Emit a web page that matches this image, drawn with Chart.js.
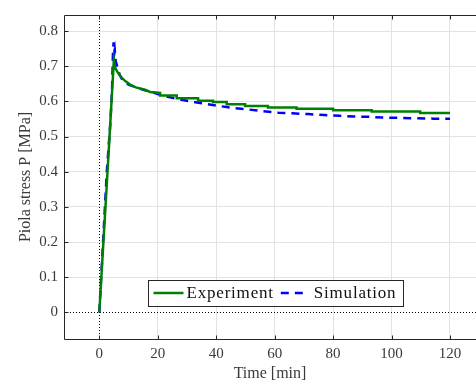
<!DOCTYPE html>
<html><head><meta charset="utf-8">
<script src="https://cdn.jsdelivr.net/npm/chart.js@4"></script>
<style>html,body{margin:0;padding:0;background:#fff}#wrap{width:476px;height:385px}</style>
</head><body><div id="wrap"><canvas id="c" width="476" height="385"></canvas></div>
<script>
const expTime = [0, 3.0, 5.0, 5.5, 6.5, 7.8, 9.0, 10.5, 12.5, 15.6, 17.4, 20.8, 20.8, 26.5, 26.5, 33.8, 33.8, 38.9, 38.9, 43.6, 43.6, 49.9, 49.9, 57.7, 57.7, 67.5, 67.5, 80, 80, 93.2, 93.2, 109.8, 109.8, 120];
const expStress = [0, 0.427, 0.720, 0.694, 0.680, 0.666, 0.657, 0.648, 0.640, 0.633, 0.627, 0.624, 0.617, 0.617, 0.609, 0.609, 0.602, 0.602, 0.598, 0.598, 0.592, 0.592, 0.587, 0.587, 0.583, 0.583, 0.579, 0.579, 0.575, 0.575, 0.571, 0.571, 0.567, 0.567];
const simTime = [0, 2.6, 3.8, 4.35, 4.7, 4.9, 5.1, 5.3, 5.6, 6.1, 7, 8, 10, 12.5, 15, 17.4, 20, 23.1, 26, 29.9, 35, 40.2, 45, 51, 56, 61.3, 66, 71.5, 77, 82.4, 87, 92.6, 97, 102.9, 108, 114.3, 120];
const simStress = [0, 0.405, 0.54, 0.633, 0.745, 0.768, 0.735, 0.745, 0.715, 0.700, 0.675, 0.660, 0.648, 0.640, 0.633, 0.628, 0.621, 0.614, 0.608, 0.602, 0.595, 0.588, 0.582, 0.577, 0.572, 0.568, 0.566, 0.564, 0.561, 0.559, 0.557, 0.556, 0.554, 0.553, 0.552, 0.551, 0.551];
const seriesNames = ['Experiment', 'Simulation'];
const xTicks = [0, 20, 40, 60, 80, 100, 120];
const yTicks = [0, 0.1, 0.2, 0.3, 0.4, 0.5, 0.6, 0.7, 0.8];

const FONT = "'Liberation Serif', 'Times New Roman', serif";
const TXT = '#3a3a3a';
const GRID = '#e3e3e3';

const pts = (xs, ys) => xs.map((x, i) => ({x, y: ys[i]}));

const framePlugin = {
  id: 'frame',
  beforeDatasetsDraw(chart) {
    const {ctx, chartArea: a, scales: {x, y}} = chart;
    ctx.save();
    ctx.strokeStyle = '#000';
    ctx.lineWidth = 1;
    ctx.setLineDash([1, 2]);
    const x0 = Math.round(x.getPixelForValue(0)) + 0.5;
    const y0 = Math.round(y.getPixelForValue(0)) + 0.5;
    ctx.beginPath();
    ctx.moveTo(x0, a.top); ctx.lineTo(x0, a.bottom);
    ctx.moveTo(a.left, y0); ctx.lineTo(a.right, y0);
    ctx.stroke();
    ctx.restore();
  },
  afterDatasetsDraw(chart) {
    const {ctx, chartArea: a, scales: {x, y}} = chart;
    ctx.save();
    ctx.strokeStyle = '#262626';
    ctx.lineWidth = 1;
    const L = Math.round(a.left) + 0.5, B = Math.round(a.bottom) + 0.5, T = Math.round(a.top) + 0.5;
    ctx.beginPath();
    ctx.moveTo(L, T); ctx.lineTo(a.right, T);
    ctx.moveTo(L, T); ctx.lineTo(L, B); ctx.lineTo(a.right, B);
    xTicks.forEach(v => {
      const px = Math.round(x.getPixelForValue(v)) + 0.5;
      ctx.moveTo(px, B); ctx.lineTo(px, B - 4);
      ctx.moveTo(px, T); ctx.lineTo(px, T + 4);
    });
    yTicks.forEach(v => {
      const py = Math.round(y.getPixelForValue(v)) + 0.5;
      ctx.moveTo(L, py); ctx.lineTo(L + 4, py);
    });
    ctx.stroke();

    // legend
    const ds = chart.data.datasets;
    ctx.font = "17px " + FONT;
    if ('letterSpacing' in ctx) ctx.letterSpacing = '0.8px';
    const sample = 30, gapA = 3, gapB = 7;
    const w0 = ctx.measureText(ds[0].label).width;
    const w1 = ctx.measureText(ds[1].label).width;
    const inner = sample + gapA + w0 + gapB + sample + gapA + w1;
    const cx = 275.5, cy = 293;
    const bx = Math.round(cx - inner / 2 - 6) + 0.5, bw = Math.round(inner + 12);
    const by = 280.5, bh = 26;
    ctx.fillStyle = '#fff';
    ctx.fillRect(bx, by, bw, bh);
    ctx.strokeStyle = '#262626';
    ctx.lineWidth = 1;
    ctx.strokeRect(bx, by, bw, bh);
    let px = bx + 5;
    ctx.textBaseline = 'middle';
    ctx.textAlign = 'left';
    ctx.lineWidth = 2.5;
    ctx.strokeStyle = ds[0].borderColor;
    ctx.setLineDash([]);
    ctx.beginPath(); ctx.moveTo(px, cy); ctx.lineTo(px + sample, cy); ctx.stroke();
    px += sample + gapA;
    ctx.fillStyle = '#111';
    ctx.fillText(ds[0].label, px, cy + 1);
    px += w0 + gapB;
    ctx.strokeStyle = ds[1].borderColor;
    ctx.setLineDash([8, 6]);
    ctx.beginPath(); ctx.moveTo(px, cy); ctx.lineTo(px + 24, cy); ctx.stroke();
    ctx.setLineDash([]);
    px += sample + gapA;
    ctx.fillText(ds[1].label, px, cy + 1);
    ctx.restore();
  }
};

new Chart(document.getElementById('c'), {
  type: 'line',
  data: {
    datasets: [
      {label: seriesNames[0], data: pts(expTime, expStress), borderColor: '#008000', borderWidth: 2.5, pointRadius: 0, tension: 0, fill: false},
      {label: seriesNames[1], data: pts(simTime, simStress), borderColor: '#0000ff', borderWidth: 2.5, borderDash: [8, 6], pointRadius: 0, tension: 0, fill: false}
    ]
  },
  options: {
    responsive: false,
    animation: false,
    devicePixelRatio: 1,
    layout: {padding: {top: 11, right: 0, left: 0, bottom: 0}},
    plugins: {legend: {display: false}, tooltip: {enabled: false}},
    scales: {
      x: {
        type: 'linear', min: -12.08, max: 128.9,
        afterBuildTicks: s => { s.ticks = xTicks.map(v => ({value: v})); },
        afterFit: s => { s.height = 46; },
        border: {display: false},
        grid: {color: c => (c.tick && c.tick.value === 0) ? 'rgba(0,0,0,0)' : GRID, lineWidth: 1, drawTicks: false},
        ticks: {padding: 6, color: TXT, font: {family: FONT, size: 15}, maxRotation: 0, autoSkip: false, callback: v => String(v)},
        title: {display: true, text: 'Time [min]', color: TXT, font: {family: FONT, size: 16}, padding: {top: 0, bottom: 2}}
      },
      y: {
        type: 'linear', min: -0.0759, max: 0.8458,
        afterBuildTicks: s => { s.ticks = yTicks.map(v => ({value: v})); },
        afterFit: s => { s.width = 64; },
        border: {display: false},
        grid: {color: c => (c.tick && c.tick.value === 0) ? 'rgba(0,0,0,0)' : GRID, lineWidth: 1, drawTicks: false},
        ticks: {padding: 6, color: TXT, font: {family: FONT, size: 15}, autoSkip: false, callback: v => String(+Number(v).toFixed(1))},
        title: {display: true, text: 'Piola stress P [MPa]', color: TXT, font: {family: FONT, size: 16}, padding: {top: 16, bottom: 0}}
      }
    }
  },
  plugins: [framePlugin]
});
</script>
</body></html>
